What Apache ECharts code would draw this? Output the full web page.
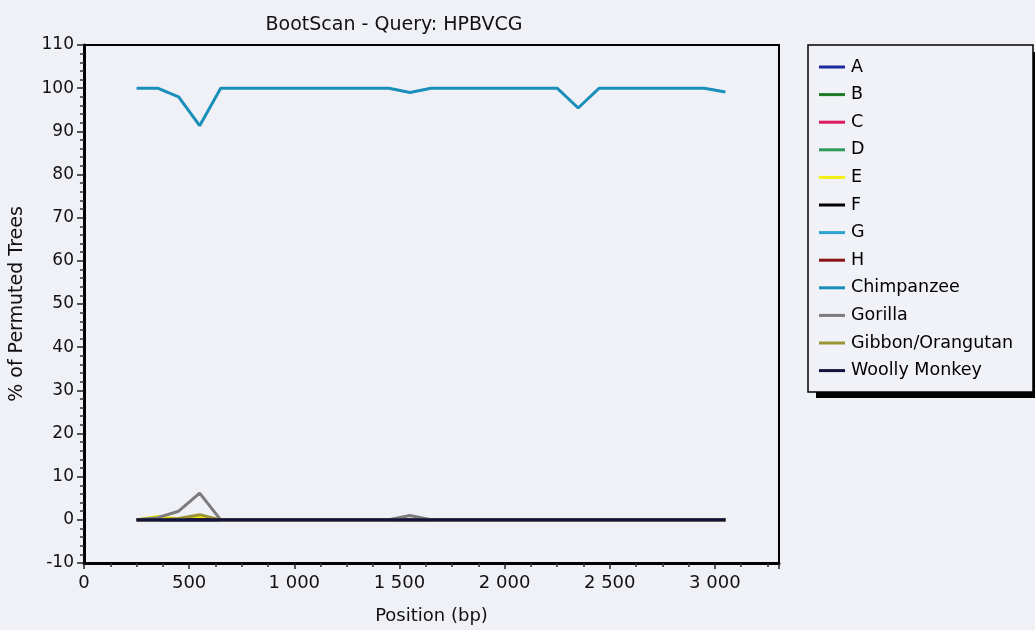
<!DOCTYPE html>
<html><head><meta charset="utf-8">
<script src="https://cdn.jsdelivr.net/npm/echarts@6/dist/echarts.min.js"></script>
<style>html,body{margin:0;padding:0;background:#eff1f7;}#c{width:1035px;height:630px;}</style>
</head><body><div id="c"></div>
<script>
const positions = [250,350,450,550,650,750,850,950,1050,1150,1250,1350,1450,1550,1650,1750,1850,1950,2050,2150,2250,2350,2450,2550,2650,2750,2850,2950,3050];
const seriesNames = ['A','B','C','D','E','F','G','H','Chimpanzee','Gorilla','Gibbon/Orangutan','Woolly Monkey'];
const seriesColors = ['#1c2a9c','#1f7a24','#e0185e','#2f9a5c','#f2ee10','#000000','#2aa2d2','#8a1414','#1a8fba','#7c7c7c','#9a9434','#12123e'];
const zeros = positions.map(() => 0);
const chimpValues = [100,100,98,91.3,100,100,100,100,100,100,100,100,100,99,100,100,100,100,100,100,100,95.4,100,100,100,100,100,100,99.1];
const gorillaValues = [0,0.5,2,6.2,0,0,0,0,0,0,0,0,0,1,0,0,0,0,0,0,0,0,0,0,0,0,0,0,0];
const gibbonValues = [0,0,0.3,1.2,0,0,0,0,0,0,0,0,0,0,0,0,0,0,0,0,0,0,0,0,0,0,0,0,0];
const eValues = [0,0.8,0.2,0.6,0,0,0,0,0,0,0,0,0,0,0,0,0,0,0,0,0,0,0,0,0,0,0,0,0];
const xTickStep = 500;
const yTickStep = 10;

const valuesByName = {
  'A': zeros, 'B': zeros, 'C': zeros, 'D': zeros, 'E': eValues, 'F': zeros, 'G': zeros, 'H': zeros,
  'Chimpanzee': chimpValues, 'Gorilla': gorillaValues, 'Gibbon/Orangutan': gibbonValues, 'Woolly Monkey': zeros
};

const font = '"DejaVu Sans", "Liberation Sans", Arial, sans-serif';
const chart = echarts.init(document.getElementById('c'), null, {renderer: 'canvas'});
chart.setOption({
  backgroundColor: '#eff1f7',
  animation: false,
  title: {
    text: 'BootScan - Query: HPBVCG', left: 389, top: 11, textAlign: 'center',
    textStyle: {fontFamily: font, fontSize: 19, fontWeight: 'normal', color: '#111'}
  },
  graphic: [
    {type: 'rect', z: -1, shape: {x: 816, y: 52, width: 225, height: 346}, style: {fill: '#000'}},
    {type: 'rect', z: 0, shape: {x: 808, y: 45, width: 225, height: 347}, style: {fill: '#f0f2f8', stroke: '#000', lineWidth: 1.5}}
  ],
  legend: {
    orient: 'vertical', left: 819, top: 58, z: 10, padding: 0,
    icon: 'rect', itemWidth: 26, itemHeight: 3, itemGap: 9.6,
    textStyle: {fontFamily: font, fontSize: 17.5, lineHeight: 18, color: '#000', padding: [0,0,0,1]},
    data: seriesNames
  },
  grid: {left: 84, top: 45, width: 695, height: 518, outerBoundsMode: 'none', containLabel: false,
         show: true, borderColor: '#000', borderWidth: 2, backgroundColor: 'transparent'},
  xAxis: {
    type: 'value', min: 0, max: 3305, interval: xTickStep,
    name: 'Position (bp)', nameLocation: 'middle', nameGap: 44,
    nameTextStyle: {fontFamily: font, fontSize: 18, color: '#111'},
    axisLine: {show: true, onZero: false, lineStyle: {color: '#000', width: 3}},
    axisTick: {show: true, length: 6, lineStyle: {color: '#222', width: 1.5}},
    minorTick: {show: true, splitNumber: 4, length: 4, lineStyle: {color: '#333', width: 1.5}},
    splitLine: {show: false},
    axisLabel: {
      fontFamily: font, fontSize: 18, color: '#111', margin: 11,
      formatter: v => (v % xTickStep === 0 ? String(v).replace(/\B(?=(\d{3})+(?!\d))/g, ' ') : '')
    }
  },
  yAxis: {
    type: 'value', min: -10, max: 110, interval: yTickStep,
    name: '% of Permuted Trees', nameLocation: 'middle', nameGap: 57, nameRotate: 90,
    nameTextStyle: {fontFamily: font, fontSize: 19, color: '#111'},
    axisLine: {show: true, onZero: false, lineStyle: {color: '#000', width: 3}},
    axisTick: {show: true, length: 7, lineStyle: {color: '#222', width: 1.5}},
    minorTick: {show: true, splitNumber: 5, length: 4, lineStyle: {color: '#333', width: 1.5}},
    splitLine: {show: false},
    axisLabel: {fontFamily: font, fontSize: 17, color: '#111', margin: 10}
  },
  series: seriesNames.map((n, i) => ({
    name: n, type: 'line', showSymbol: false, symbol: 'none',
    color: seriesColors[i],
    lineStyle: {width: 3, color: seriesColors[i]},
    z: 2 + i,
    data: positions.map((p, k) => [p, valuesByName[n][k]])
  }))
});
</script></body></html>
